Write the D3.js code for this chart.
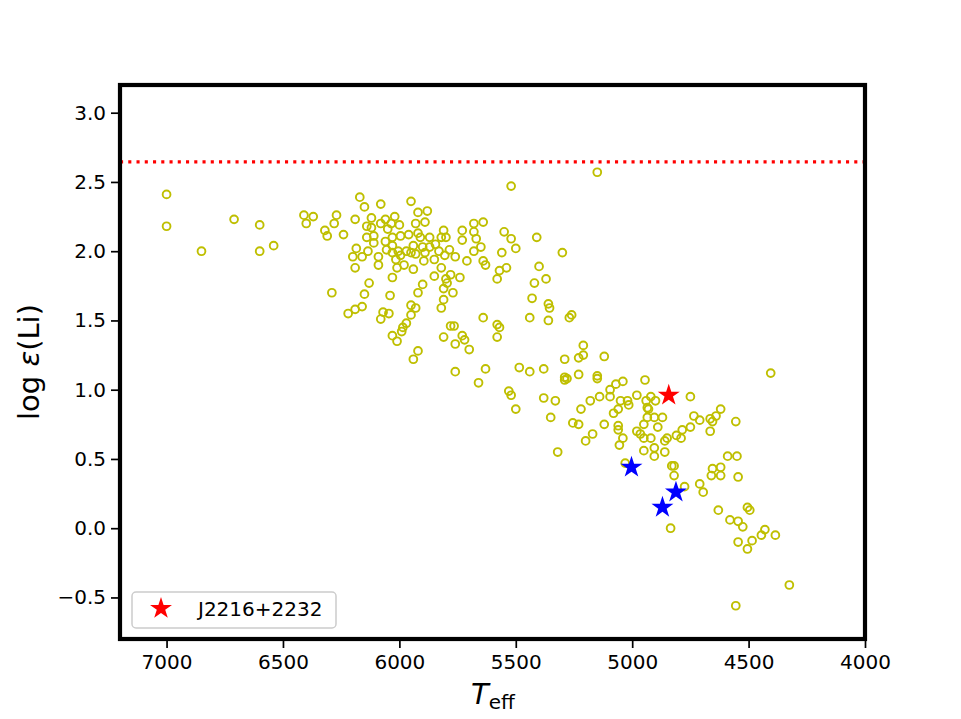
<!DOCTYPE html>
<html>
<head>
<meta charset="utf-8">
<script src="https://cdn.jsdelivr.net/npm/d3@7"></script>
<style>
  html, body { margin: 0; padding: 0; background: #fff; }
  svg { display: block; font-family: "DejaVu Sans", sans-serif; }
</style>
</head>
<body>
<svg id="chart" width="961" height="719"></svg>
<script>
// ---- Data ----
const sampleTeff = [
  7000,7000,6850,6710,6600,6600,6540,6410,6370,6400,6270,6280,6320,6310,6240,6290,6190,6170,6185,6200,6190,6220,6190,
  6150,6080,5950,5920,5880,5520,6120,6140,6120,6080,6060,6020,6035,6000,6050,5930,5890,6140,6110,6110,6060,6030,5995,5960,
  5920,5910,5870,5810,5820,5800,5730,5680,5640,5680,5730,5670,5650,5680,5550,5520,5500,5410,5560,6160,6135,6090,6090,6030,
  6055,6030,6005,6015,5995,5970,5940,5950,5930,5980,6010,5940,5900,5890,5870,5845,5830,5895,5850,5805,5785,5760,5820,5710,
  5630,5640,5400,5540,5570,5580,5370,5420,5430,5360,5355,5360,5440,6030,6130,6150,6040,5900,5920,5850,5780,5800,5740,5795,
  5810,5770,5810,5820,5950,5930,5950,5970,5985,6070,6045,6080,6160,5640,5580,5780,5765,
  5990,6030,6010,5920,5940,5810,5760,5730,5720,5700,5570,5580,5760,5630,5660,5485,5440,5380,5530,5520,5500,5380,5330,5350,5320,
  5150,5300,5270,5260,
  5210,5210,5230,5290,5120,5290,5290,5280,5230,5150,5150,5070,5040,4945,4405,5180,5140,5095,5095,5050,5020,5015,4980,5220,5060,
  5080,5255,5230,5120,5170,5200,5060,5060,5040,5055,4920,4900,4940,4935,4930,4750,4935,4905,4870,4950,4890,4980,4950,4920,4965,
  4950,4905,4905,4860,4860,4850,4810,4790,4785,4750,4735,4710,4665,4640,4655,4620,4665,4555,4830,4820,4820,4590,4550,4655,4620,
  4660,4620,4545,4775,4710,5030,
  4695,4835,4630,4505,4495,4580,4545,4525,4545,4505,4485,4445,4430,4385,4325,4555
];
const sampleLi = [
  2.41,2.18,2.00,2.23,2.19,2.00,2.04,2.26,2.25,2.20,2.26,2.20,2.15,2.11,2.12,1.70,2.23,2.39,2.02,1.96,1.88,1.55,1.58,
  2.32,2.34,2.36,2.28,2.29,2.47,2.24,2.18,2.17,2.20,2.23,2.25,2.20,2.19,2.16,2.20,2.21,2.10,2.11,2.06,2.07,2.10,2.11,2.12,
  2.13,2.10,2.10,2.15,2.10,2.10,2.15,2.20,2.21,2.14,2.08,2.09,2.03,2.00,2.14,2.09,2.02,2.10,1.99,1.96,2.00,1.96,1.90,2.04,
  2.01,1.99,2.00,1.94,1.97,2.00,2.04,1.99,1.98,1.90,1.88,1.87,2.03,1.99,2.03,2.05,2.00,1.93,1.94,1.97,2.01,1.96,1.88,1.93,
  1.90,1.93,1.89,1.88,1.86,1.80,1.80,1.77,1.66,1.62,1.59,1.50,1.52,1.81,1.77,1.69,1.68,1.76,1.70,1.82,1.83,1.80,1.81,1.77,
  1.73,1.70,1.65,1.59,1.61,1.59,1.54,1.48,1.45,1.56,1.55,1.51,1.60,1.52,1.47,1.46,1.46,
  1.42,1.39,1.35,1.28,1.22,1.38,1.33,1.39,1.36,1.29,1.45,1.38,1.13,1.15,1.05,1.16,1.13,1.15,0.99,0.96,0.86,0.94,0.92,0.80,0.55,
  2.57,1.99,1.52,1.54,
  1.32,1.25,1.23,1.22,1.24,1.09,1.07,1.08,1.11,1.10,1.08,1.04,1.06,1.07,1.12,0.92,0.95,1.00,0.95,0.92,0.92,0.89,0.96,0.86,0.86,
  0.83,0.76,0.75,0.75,0.68,0.63,0.74,0.71,0.65,0.60,0.95,0.92,0.92,0.87,0.86,0.95,0.80,0.80,0.80,0.75,0.73,0.70,0.65,0.65,0.68,
  0.56,0.58,0.52,0.55,0.63,0.65,0.67,0.65,0.71,0.73,0.81,0.78,0.79,0.81,0.77,0.86,0.70,0.77,0.45,0.45,0.38,0.52,0.52,0.43,0.44,
  0.38,0.38,0.37,0.30,0.32,0.47,
  0.26,0.00,0.13,0.15,0.13,0.06,0.05,0.01,-0.10,-0.15,-0.09,-0.05,-0.01,-0.05,-0.41,-0.56
];
const targetTeff = [4843];
const targetLi = [0.96];
const targetName = "J2216+2232";
const otherTeff = [5003, 4812, 4870];
const otherLi = [0.44, 0.26, 0.15];
const refLineLi = 2.645;
const xTicks = [7000, 6500, 6000, 5500, 5000, 4500, 4000];
const yTicks = [-0.5, 0.0, 0.5, 1.0, 1.5, 2.0, 2.5, 3.0];
const xDomain = [7200, 4000];
const yDomain = [-0.8, 3.2];

// ---- Layout ----
const L = 120, R = 865, T = 85, B = 639;
const svg = d3.select("#chart");
svg.append("rect").attr("width", 961).attr("height", 719).attr("fill", "#fff");

const x = d3.scaleLinear().domain(xDomain).range([L, R]);
const y = d3.scaleLinear().domain(yDomain).range([B, T]);

const plot = svg.append("g");

// comparison sample (hollow yellow circles)
const pts = d3.range(sampleTeff.length).map(i => ({t: sampleTeff[i], l: sampleLi[i]}));
plot.selectAll("circle.s").data(pts).enter().append("circle")
  .attr("class", "s")
  .attr("cx", d => x(d.t)).attr("cy", d => y(d.l)).attr("r", 3.9)
  .attr("fill", "none").attr("stroke", "#bfbf00").attr("stroke-width", 1.9);

// reference dotted line
plot.append("line")
  .attr("x1", L).attr("x2", R)
  .attr("y1", y(refLineLi)).attr("y2", y(refLineLi))
  .attr("stroke", "#ff0000").attr("stroke-width", 3.1)
  .attr("stroke-dasharray", "3.1 5.15");

// stars
const star = d3.symbol().type(d3.symbolStar).size(150);
plot.selectAll("path.b").data(d3.range(otherTeff.length)).enter().append("path")
  .attr("class", "b")
  .attr("d", star)
  .attr("transform", i => `translate(${x(otherTeff[i])},${y(otherLi[i])})`)
  .attr("fill", "#0000ff");
plot.selectAll("path.r").data(d3.range(targetTeff.length)).enter().append("path")
  .attr("class", "r")
  .attr("d", star)
  .attr("transform", i => `translate(${x(targetTeff[i])},${y(targetLi[i])})`)
  .attr("fill", "#ff0000");

// axes
const xAxis = d3.axisBottom(x).tickValues(xTicks).tickFormat(d3.format("d")).tickSize(7).tickPadding(7);
const yAxis = d3.axisLeft(y).tickValues(yTicks).tickFormat(d => d3.format(".1f")(d).replace("-", "\u2212")).tickSize(7).tickPadding(5);

const gx = svg.append("g").attr("transform", `translate(0,${B + 2})`).call(xAxis);
const gy = svg.append("g").attr("transform", `translate(${L - 2},0)`).call(yAxis);
[gx, gy].forEach(g => {
  g.select(".domain").remove();
  g.selectAll(".tick line").attr("stroke", "#000").attr("stroke-width", 1.7);
  g.selectAll(".tick text").attr("fill", "#000").attr("font-size", 20)
    .attr("font-family", "DejaVu Sans, sans-serif");
});

// frame (spines)
svg.append("rect")
  .attr("x", L).attr("y", T).attr("width", R - L).attr("height", B - T)
  .attr("fill", "none").attr("stroke", "#000").attr("stroke-width", 4.2);

// axis labels
const xl = svg.append("text").attr("x", 493).attr("y", 704)
  .attr("text-anchor", "middle").attr("font-size", 29).attr("fill", "#000");
xl.append("tspan").attr("font-style", "italic").text("T");
xl.append("tspan").attr("font-size", 20).attr("dy", 5).text("eff");

const yl = svg.append("text")
  .attr("transform", "translate(39,362) rotate(-90)")
  .attr("text-anchor", "middle").attr("font-size", 29).attr("fill", "#000");
yl.append("tspan").text("log ");
yl.append("tspan").attr("font-style", "italic").text("\u03b5");
yl.append("tspan").text("(Li)");

// legend
const lg = svg.append("g");
lg.append("rect").attr("x", 132).attr("y", 592).attr("width", 204).attr("height", 36)
  .attr("rx", 4).attr("fill", "#fff").attr("fill-opacity", 0.8)
  .attr("stroke", "#cccccc").attr("stroke-width", 1.5);
lg.append("path").attr("d", star).attr("transform", "translate(161,608.5)").attr("fill", "#ff0000");
lg.append("text").attr("x", 198).attr("y", 616).attr("font-size", 20).attr("fill", "#000").text(targetName);
</script>
</body>
</html>
